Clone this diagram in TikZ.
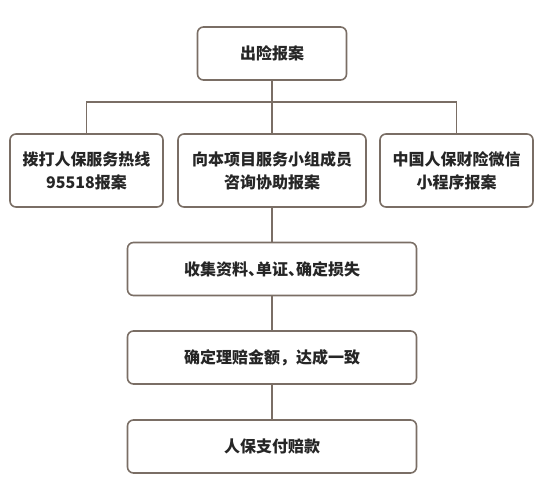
\documentclass[tikz,border=0pt]{standalone}
\usepackage{fontspec}
\newfontfamily\cjk{Noto Sans CJK SC}
\definecolor{boxline}{HTML}{7A6E65}
\definecolor{boxtext}{HTML}{262626}
\newcommand{\halfdun}{{\addfontfeature{RawFeature=+halt}、}}
\tikzset{
  stepbox/.style={draw=boxline, line width=1.6pt, rounded corners=6pt, fill=white,
    text=boxtext, align=center, inner sep=0pt,
    font=\cjk\bfseries\fontsize{16}{23}\selectfont},
  link/.style={draw=boxline, line width=1.6pt}
}
\begin{document}
\begin{tikzpicture}[x=1pt,y=-1pt]
\useasboundingbox (0,0) rectangle (546,500);
% baoan
\node[stepbox, minimum width=149pt, minimum height=53pt] (report) at (272,53.5) {出险报案};
% three ways
\node[stepbox, minimum width=153pt, minimum height=73pt] (hotline) at (86.5,170.5) {拨打人保服务热线\\95518报案};
\node[stepbox, minimum width=188pt, minimum height=73pt] (team) at (272,170.5) {向本项目服务小组成员\\咨询协助报案};
\node[stepbox, minimum width=153pt, minimum height=73pt] (wechat) at (456.5,170.5) {中国人保财险微信\\小程序报案};
% lipei
\node[stepbox, minimum width=289pt, minimum height=53pt] (collect) at (272,269) {收集资料\halfdun 单证\halfdun 确定损失};
\node[stepbox, minimum width=289pt, minimum height=53pt] (amount) at (272,357.5) {确定理赔金额，达成一致};
\node[stepbox, minimum width=289pt, minimum height=53pt] (pay) at (272,446.5) {人保支付赔款};
\coordinate (bar) at (272,102);
\draw[link] (report.south) -- (team.north);
\draw[link] (hotline.north) |- (bar) -| (wechat.north);
\draw[link] (team.south) -- (collect.north);
\draw[link] (collect.south) -- (amount.north);
\draw[link] (amount.south) -- (pay.north);
\end{tikzpicture}
\end{document}
